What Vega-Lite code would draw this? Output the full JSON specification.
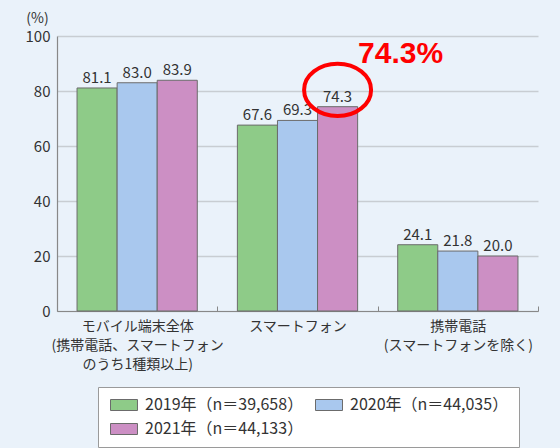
{
  "$schema": "https://vega.github.io/schema/vega-lite/v6.json",
  "width": 481,
  "height": 275,
  "autosize": "none",
  "padding": {"left": 57, "top": 36, "right": 22, "bottom": 137},
  "background": "#eaf2fa",
  "config": {
    "view": {"stroke": null},
    "font": "Noto Sans CJK JP",
    "axis": {"labelColor": "#333", "titleColor": "#333", "labelFont": "Noto Sans CJK JP", "titleFont": "Noto Sans CJK JP"},
    "legend": {"labelFont": "Noto Sans CJK JP"}
  },
  "data": {
    "values": [
      {"category": "モバイル端末全体|(携帯電話、スマートフォン|のうち1種類以上)", "year": "2019年（n＝39,658）", "value": 81.1},
      {"category": "モバイル端末全体|(携帯電話、スマートフォン|のうち1種類以上)", "year": "2020年（n＝44,035）", "value": 83.0},
      {"category": "モバイル端末全体|(携帯電話、スマートフォン|のうち1種類以上)", "year": "2021年（n＝44,133）", "value": 83.9},
      {"category": "スマートフォン", "year": "2019年（n＝39,658）", "value": 67.6},
      {"category": "スマートフォン", "year": "2020年（n＝44,035）", "value": 69.3},
      {"category": "スマートフォン", "year": "2021年（n＝44,133）", "value": 74.3},
      {"category": "携帯電話|(スマートフォンを除く)", "year": "2019年（n＝39,658）", "value": 24.1},
      {"category": "携帯電話|(スマートフォンを除く)", "year": "2020年（n＝44,035）", "value": 21.8},
      {"category": "携帯電話|(スマートフォンを除く)", "year": "2021年（n＝44,133）", "value": 20.0}
    ]
  },
  "encoding": {
    "x": {
      "field": "category", "type": "nominal", "sort": null,
      "scale": {"paddingInner": 0, "paddingOuter": 0},
      "axis": {
        "title": null, "labelAngle": 0, "labelExpr": "split(datum.label, '|')", "labelLimit": 0,
        "labelFontSize": 14, "labelLineHeight": 19, "labelPadding": 13, "labelBaseline": "top",
        "domainColor": "#888", "domainWidth": 1.2, "tickBand": "extent", "tickSize": -5, "tickColor": "#888"
      }
    },
    "xOffset": {
      "field": "year", "type": "nominal", "sort": null,
      "scale": {"paddingInner": 0, "paddingOuter": 0.5}
    },
    "y": {
      "field": "value", "type": "quantitative",
      "scale": {"domain": [0, 100]},
      "axis": {
        "values": [0, 20, 40, 60, 80, 100], "title": "(%)", "titleAngle": 0, "titleAlign": "center",
        "titleBaseline": "middle", "titleX": -20, "titleY": -18, "titleFontSize": 14, "titleFontWeight": "normal",
        "labelFontSize": 15, "labelPadding": 7, "ticks": false, "grid": true, "gridColor": "#c8cdd2", "gridWidth": 1.5,
        "domainColor": "#888", "domainWidth": 1.2
      }
    }
  },
  "layer": [
    {
      "mark": {"type": "bar", "stroke": "#6b6b6b", "strokeWidth": 1},
      "encoding": {
        "color": {
          "field": "year", "type": "nominal", "sort": null,
          "scale": {"domain": ["2019年（n＝39,658）", "2020年（n＝44,035）", "2021年（n＝44,133）"], "range": ["#8ecb88", "#a9c8ee", "#cc8fc4"]},
          "legend": {
            "title": null, "orient": "none", "legendX": 41, "legendY": 351, "columns": 2, "direction": "horizontal",
            "fillColor": "white", "strokeColor": "#9a9a9a", "padding": 10, "columnPadding": 9, "rowPadding": 8,
            "symbolType": "M -1 -1 H 3.909 V 1 H -1 Z", "symbolSize": 121, "symbolStrokeColor": "#6b6b6b", "symbolStrokeWidth": 1,
            "symbolOpacity": 1, "labelFontSize": 16, "labelColor": "#333", "labelOffset": 21, "labelLimit": 0
          }
        }
      }
    },
    {
      "mark": {"type": "text", "baseline": "alphabetic", "dy": -5, "fontSize": 15, "color": "#333"},
      "encoding": {"text": {"field": "value", "type": "quantitative", "format": ".1f"}}
    },
    {
      "data": {"values": [{"category": "スマートフォン", "year": "2021年（n＝44,133）", "ellipse": 80.4, "note": 90.2, "label": "74.3%"}]},
      "layer": [
        {
          "mark": {"type": "point", "shape": "M -1 0 A 1 0.78 0 1 0 1 0 A 1 0.78 0 1 0 -1 0", "size": 4489, "filled": false, "stroke": "#ff0000", "strokeWidth": 4, "opacity": 1},
          "encoding": {"y": {"field": "ellipse", "type": "quantitative"}}
        },
        {
          "mark": {"type": "text", "font": "Liberation Sans", "fontWeight": "bold", "fontSize": 30, "color": "#ff0000", "baseline": "alphabetic", "align": "center", "dx": 63},
          "encoding": {"y": {"field": "note", "type": "quantitative"}, "text": {"field": "label"}}
        }
      ]
    }
  ]
}
